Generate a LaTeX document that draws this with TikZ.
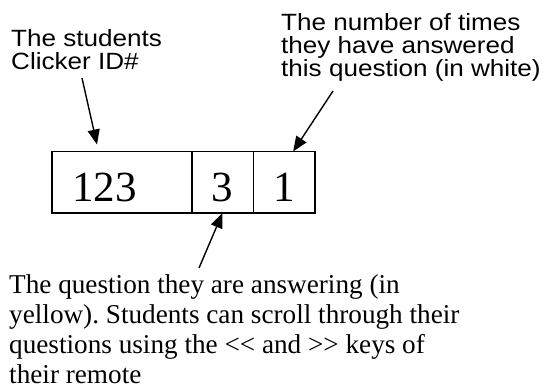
\documentclass[tikz,border=0pt]{standalone}
\usepackage{fontspec}
\setmainfont{Liberation Serif}
\newfontfamily\labelfont[FakeStretch=1.11]{Liberation Sans}
\usetikzlibrary{positioning,arrows.meta}
\frenchspacing

\begin{document}
\begin{tikzpicture}[x=1pt,y=-1pt,
  cell/.style={draw,line width=1.6pt,inner sep=0pt,outer sep=0pt,minimum height=61.5pt,
    text height=38.5pt,text depth=0pt,font=\fontsize{43}{46}\selectfont},
  tag/.style={anchor=north west,inner sep=0pt,align=left,
    font=\labelfont\fontsize{23.5}{23}\selectfont},
  note/.style={anchor=north west,inner sep=0pt,align=left,
    font=\fontsize{27.2}{30}\selectfont},
  pointer/.style={line width=1.4pt,-{Triangle[length=15pt,width=12pt]}}]

\useasboundingbox (0,0) rectangle (547,389);

% the three fields on the clicker screen
\node[cell,minimum width=140pt,text width=99pt,align=left] (id) at (121.7,182.25) {123};
\node[cell,minimum width=61.6pt,right=0pt of id] (quest) {3};
\node[cell,minimum width=61.7pt,right=0pt of quest] (count) {1};

\node[tag] (idtext) at (11,29.5) {The students\\Clicker ID\#};
\node[tag] (counttext) at (281,13.5) {The number of times\\they have answered\\this question (in white)};
\node[note] (questtext) at (9,274) {The question they are answering (in\\yellow). Students can scroll through their\\questions using the <\kern0pt< and >\kern0pt> keys of\\their remote};

\coordinate (a1) at (82,78);
\coordinate (a2) at (333,91);
\coordinate (a3) at (199,268);

\draw[pointer] (a1) -- ([xshift=-24.7pt,yshift=7pt]id.north);
\draw[pointer] (a2) -- ([xshift=9pt]count.north);
\draw[pointer] (a3) -- (quest.south);

\end{tikzpicture}
\end{document}
